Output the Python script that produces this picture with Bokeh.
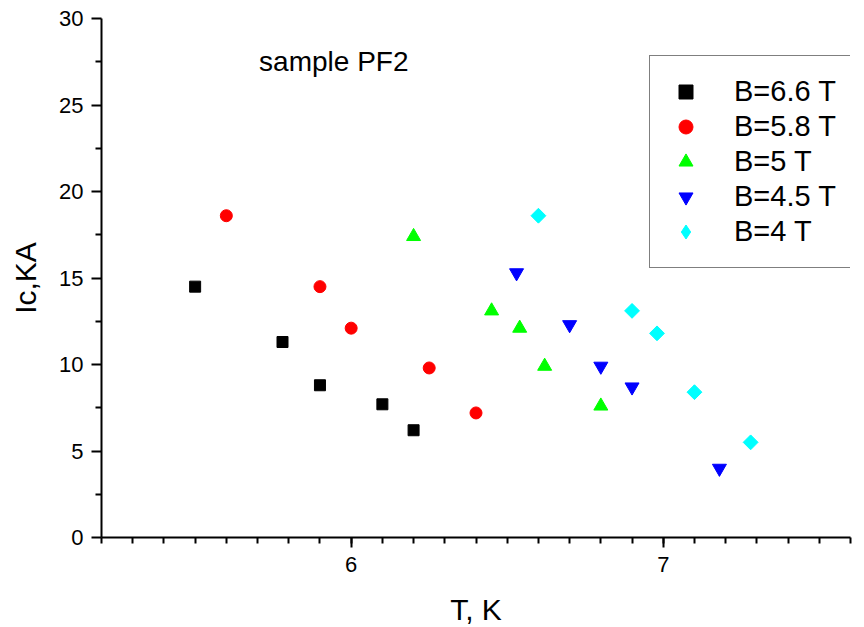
from bokeh.plotting import figure
from bokeh.models import Legend, LegendItem, FixedTicker, Label, Range1d
from bokeh.embed import file_html
from bokeh.resources import INLINE
import numpy as np

# ---- data ----
T_66 = [5.50, 5.78, 5.90, 6.10, 6.20]
Ic_66 = [14.5, 11.3, 8.8, 7.7, 6.2]

T_58 = [5.60, 5.90, 6.00, 6.25, 6.40]
Ic_58 = [18.6, 14.5, 12.1, 9.8, 7.2]

T_5 = [6.20, 6.45, 6.54, 6.62, 6.80]
Ic_5 = [17.4, 13.1, 12.1, 9.9, 7.6]

T_45 = [6.53, 6.70, 6.80, 6.90, 7.18]
Ic_45 = [15.3, 12.3, 9.9, 8.7, 4.0]

T_4 = [6.60, 6.90, 6.98, 7.10, 7.28]
Ic_4 = [18.6, 13.1, 11.8, 8.4, 5.5]

labels = ["B=6.6 T", "B=5.8 T", "B=5 T", "B=4.5 T", "B=4 T"]
x_major = [6, 7]
y_major = [0, 5, 10, 15, 20, 25, 30]

FONT = "Liberation Sans"

p = figure(frame_width=749, frame_height=519,
           min_border_left=101, min_border_right=10, min_border_top=18, min_border_bottom=85,
           x_range=Range1d(5.2, 7.6), y_range=Range1d(0, 30),
           output_backend="svg", toolbar_location=None)
p.outline_line_color = None
p.xgrid.visible = False
p.ygrid.visible = False
p.background_fill_color = "white"
p.border_fill_color = "white"

r1 = p.scatter(T_66, Ic_66, marker="square", size=11, color="black")
r2 = p.scatter(T_58, Ic_58, marker="circle", size=12, color="#ff0000")
r3 = p.scatter(T_5, Ic_5, marker="triangle", size=14, color="#00ff00")
r4 = p.scatter(T_45, Ic_45, marker="inverted_triangle", size=14, color="#0000ff")
r5 = p.scatter(T_4, Ic_4, marker="square", size=10.5, angle=np.pi / 4, color="#00ffff")
# diamond-shaped swatch for the legend (legend glyphs are drawn unrotated);
# it sits entirely inside the rotated squares above, so it adds nothing visible
r5_leg = p.scatter(T_4, Ic_4, marker="diamond", size=13, color="#00ffff")

for ax in (p.xaxis[0], p.yaxis[0]):
    ax.axis_line_width = 2
    ax.major_tick_line_width = 2
    ax.minor_tick_line_width = 2
    ax.major_tick_out = 10
    ax.major_tick_in = 0
    ax.minor_tick_out = 6
    ax.minor_tick_in = 0
    ax.major_label_text_font = FONT
    ax.major_label_text_font_size = "22px"
    ax.major_label_text_color = "black"
    ax.axis_label_text_font = FONT
    ax.axis_label_text_font_size = "30px"
    ax.axis_label_text_font_style = "normal"
    ax.axis_label_text_color = "black"

x_minor = [round(5.2 + 0.1 * i, 1) for i in range(25)]
y_minor = [2.5, 7.5, 12.5, 17.5, 22.5, 27.5]
p.xaxis.ticker = FixedTicker(ticks=x_major, minor_ticks=x_minor)
p.yaxis.ticker = FixedTicker(ticks=y_major, minor_ticks=y_minor)
p.xaxis.axis_label = "T, K"
p.yaxis.axis_label = "Ic,KA"
p.xaxis.major_label_standoff = 9
p.yaxis.major_label_standoff = 8
p.xaxis.axis_label_standoff = 18
p.yaxis.axis_label_standoff = 14

p.add_layout(Label(x=5.705, y=27.5, text="sample PF2", text_font=FONT,
                   text_font_size="28px", text_baseline="middle", text_color="black"))

legend = Legend(items=[LegendItem(label=l, renderers=[r]) for l, r in
                       zip(labels, [r1, r2, r3, r4, r5_leg])],
                location=(548, 269), margin=0, padding=18, spacing=0,
                glyph_width=35, glyph_height=35, label_height=35, label_width=100,
                label_standoff=31, label_text_font=FONT, label_text_font_size="29px",
                label_text_color="black", label_text_baseline="middle",
                border_line_color="black", border_line_width=1.5,
                background_fill_color="white", background_fill_alpha=1)
p.add_layout(legend, "center")

open("out.html", "w").write(file_html(p, INLINE))
